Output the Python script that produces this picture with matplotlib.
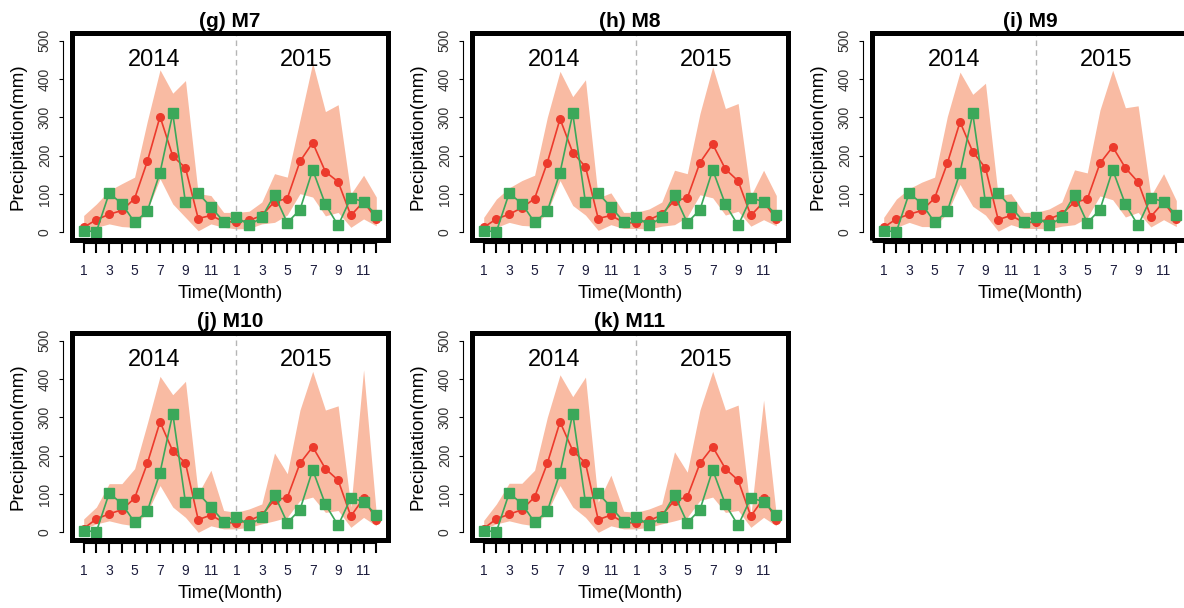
import matplotlib
matplotlib.use("Agg")
import matplotlib.pyplot as plt
from matplotlib.patches import Rectangle

plt.rcParams["font.family"] = ["Liberation Sans", "DejaVu Sans"]

# months 1..24 (Jan 2014 .. Dec 2015)
months = list(range(1, 25))
month_labels = [str(m) if m % 2 == 1 else "" for m in list(range(1, 13)) * 2]
y_ticks = [0, 100, 200, 300, 400, 500]
years = ["2014", "2015"]
year_pos = [6.5, 18.5]

# observed precipitation (green squares)
obs = [4, 2, 102, 75, 26, 55, 156, 310, 78, 102, 66, 28,
       41, 18, 39, 98, 25, 59, 163, 73, 18, 90, 80, 45]

# ensemble mean (red) and spread (shaded band) for each model
m7_mean = [13, 33, 47, 57, 88, 185, 302, 199, 168, 36, 44, 28,
           27, 31, 44, 80, 88, 185, 234, 158, 132, 44, 80, 35]
m7_upper = [44, 74, 109, 127, 144, 290, 424, 363, 396, 101, 96, 52,
            52, 55, 79, 153, 144, 293, 442, 315, 333, 100, 149, 92]
m7_lower = [0, 13, 22, 15, 13, 57, 140, 74, 39, 4, 22, 13,
            9, 10, 22, 26, 45, 101, 92, 43, 52, 13, 35, 17]

m8_mean = [13, 35, 47, 64, 88, 182, 296, 208, 171, 36, 44, 26,
           24, 33, 48, 83, 89, 182, 230, 165, 134, 44, 79, 35]
m8_upper = [39, 87, 116, 135, 149, 300, 420, 354, 398, 90, 103, 52,
            52, 61, 79, 162, 153, 310, 432, 323, 336, 95, 162, 96]
m8_lower = [2, 13, 26, 18, 16, 52, 135, 70, 45, 5, 20, 10,
            10, 9, 16, 20, 40, 98, 90, 45, 55, 16, 33, 17]

m9_mean = [13, 35, 47, 57, 89, 180, 288, 210, 168, 33, 44, 26,
           26, 35, 48, 79, 86, 180, 223, 168, 131, 41, 79, 35]
m9_upper = [39, 87, 114, 131, 144, 302, 418, 360, 389, 95, 101, 52,
            52, 61, 79, 163, 155, 319, 423, 325, 330, 95, 153, 83]
m9_lower = [2, 13, 26, 15, 15, 50, 125, 68, 45, 3, 20, 10,
            10, 9, 16, 20, 38, 95, 85, 40, 52, 14, 33, 15]

m10_mean = [10, 35, 48, 59, 89, 180, 288, 212, 181, 33, 45, 26,
            24, 31, 45, 85, 90, 180, 223, 166, 136, 42, 89, 33]
m10_upper = [35, 66, 127, 127, 166, 284, 407, 359, 394, 101, 162, 57,
             52, 61, 74, 207, 153, 319, 420, 319, 330, 66, 424, 49]
m10_lower = [9, 22, 30, 22, 17, 52, 122, 66, 39, 0, 17, 9,
             9, 13, 22, 30, 39, 83, 92, 52, 57, 13, 39, 17]

m11_mean = [10, 35, 47, 59, 92, 180, 288, 213, 181, 33, 45, 26,
            24, 31, 45, 83, 92, 180, 223, 166, 136, 42, 89, 33]
m11_upper = [31, 74, 128, 128, 162, 300, 411, 354, 405, 79, 149, 55,
             52, 61, 74, 210, 157, 319, 420, 319, 332, 45, 345, 45]
m11_lower = [9, 22, 30, 22, 17, 52, 122, 66, 39, 0, 17, 9,
             9, 13, 22, 30, 39, 83, 92, 52, 57, 13, 39, 17]

titles = ["(g) M7", "(h) M8", "(i) M9", "(j) M10", "(k) M11"]
means = [m7_mean, m8_mean, m9_mean, m10_mean, m11_mean]
uppers = [m7_upper, m8_upper, m9_upper, m10_upper, m11_upper]
lowers = [m7_lower, m8_lower, m9_lower, m10_lower, m11_lower]

RED = "#EC3A2C"
GREEN = "#3BA85A"
BAND = "#F9BBA3"
TICKC = "#1c1c3c"

W, H = 1184, 608
fig = plt.figure(figsize=(W / 100, H / 100), dpi=100)

for i, title in enumerate(titles):
    cx = (i % 3) * 400
    ry = (i // 3) * 300
    # plot box in pixels: x 72..388, y 33..240 within each cell
    ax = fig.add_axes([(cx + 72) / W, 1 - (ry + 240) / H, 316 / W, 207 / H])
    ax.set_xlim(0.08, 24.92)
    ax.set_ylim(-20, 520)

    ax.fill_between(months, lowers[i], uppers[i], color=BAND, lw=0, zorder=1)
    ax.axvline(13, color="#b5b5b5", ls=(0, (4, 3)), lw=1.0, zorder=2)
    ax.plot(months, means[i], color=RED, lw=1.2, marker="o", ms=5.5,
            mec=RED, mfc=RED, zorder=3)
    ax.plot(months, obs, color=GREEN, lw=1.2, marker="s", ms=6.5,
            mec=GREEN, mfc=GREEN, zorder=4)

    for yr, xp in zip(years, year_pos):
        ax.text(xp, 450, yr, ha="center", va="center", fontsize=17)

    # thick frame around the plotting region
    ax.add_patch(Rectangle((0, 0), 1, 1, transform=ax.transAxes, fill=False,
                           lw=3.6, ec="black", clip_on=False, zorder=10))

    ax.spines["top"].set_visible(False)
    ax.spines["right"].set_visible(False)
    ax.spines["left"].set_position(("outward", 6.5))
    ax.spines["left"].set_bounds(0, 500)
    ax.spines["left"].set_linewidth(0.8)
    ax.spines["bottom"].set_position(("outward", 2.5))
    ax.spines["bottom"].set_bounds(1, 24)
    ax.spines["bottom"].set_linewidth(1.5)

    ax.set_xticks(months)
    ax.set_xticklabels(month_labels)
    ax.set_yticks(y_ticks)
    ax.set_yticklabels([str(v) for v in y_ticks], rotation=90, va="center")
    ax.tick_params(axis="x", length=7.5, width=1.5, pad=7, labelsize=10,
                   labelcolor=TICKC)
    ax.tick_params(axis="y", length=3, width=0.8, pad=5, labelsize=10,
                   labelcolor="#333333")

    ax.set_title(title, fontweight="bold", fontsize=15, pad=4)
    ax.set_xlabel("Time(Month)", fontsize=13.5)
    ax.xaxis.set_label_coords(0.5, -0.26)
    ax.xaxis.label.set_va("center")
    ax.set_ylabel("Precipitation(mm)", fontsize=13.5)
    ax.yaxis.set_label_coords(-0.171, 0.5)
    ax.yaxis.label.set_va("center")

fig.savefig("out.png", dpi=100)
